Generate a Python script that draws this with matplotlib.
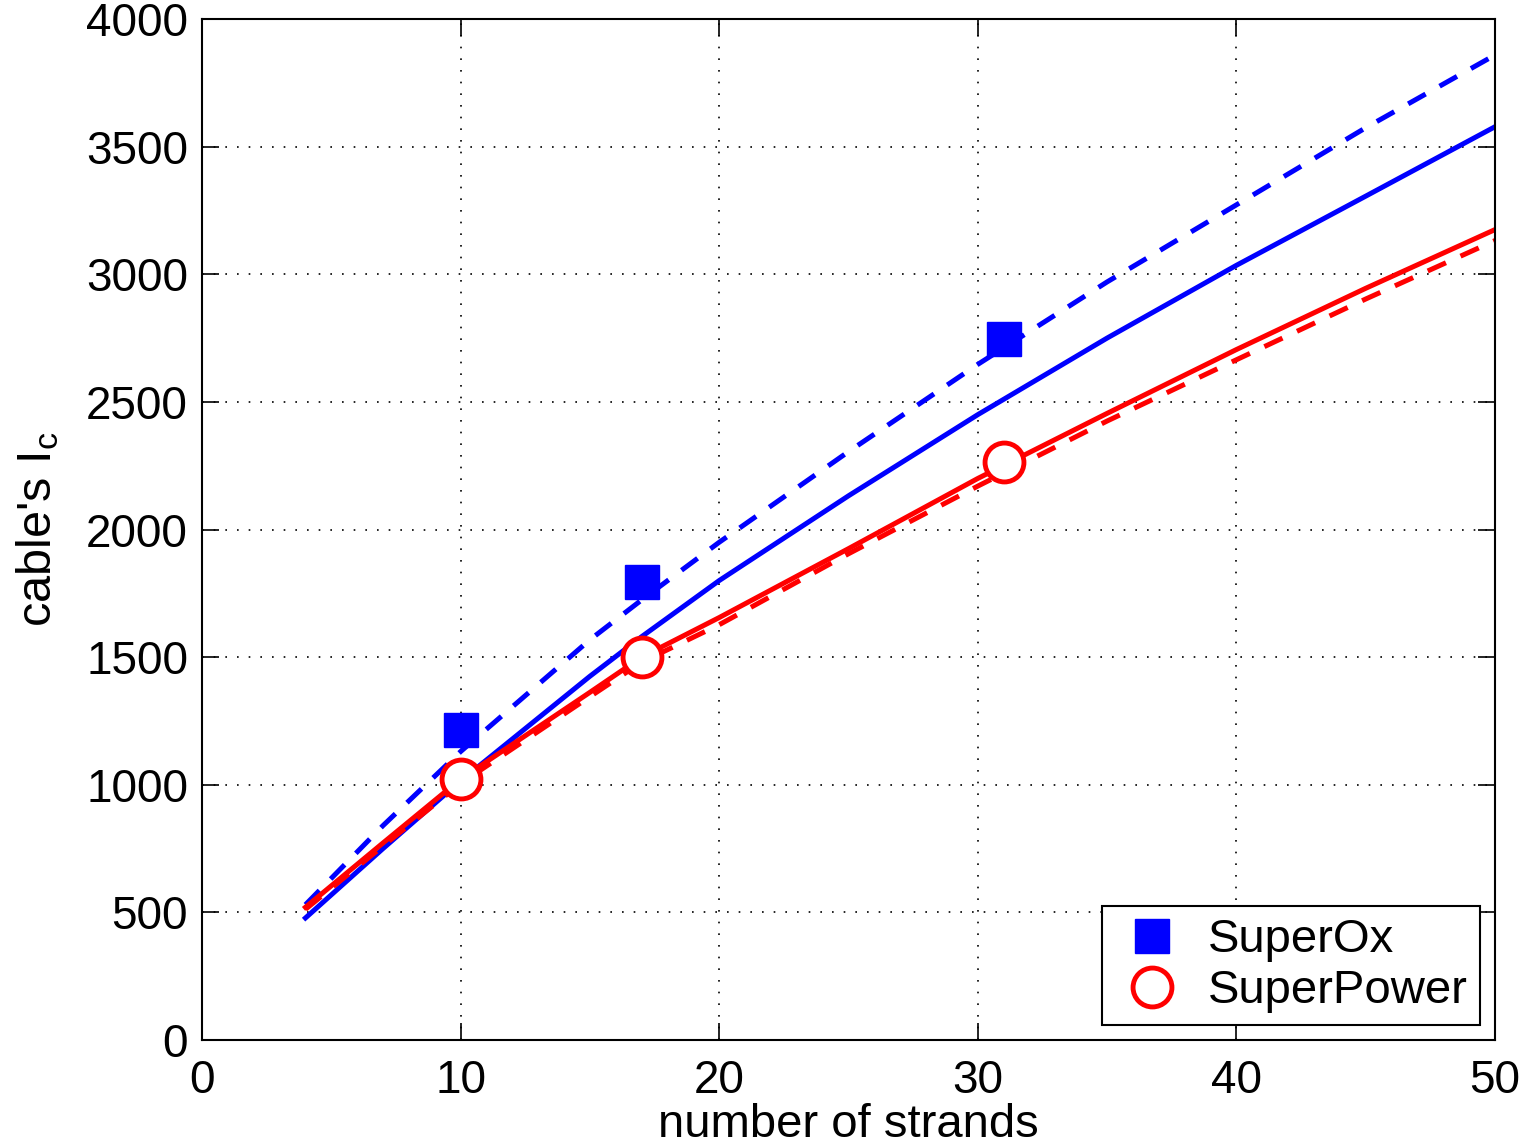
import matplotlib
matplotlib.use("Agg")
import matplotlib.pyplot as plt

plt.rcParams['font.family'] = ['Liberation Sans', 'DejaVu Sans']
plt.rcParams['mathtext.fontset'] = 'custom'
plt.rcParams['mathtext.rm'] = 'Liberation Sans'
plt.rcParams['mathtext.it'] = 'Liberation Sans'

# measured data
strands_meas = [10, 17, 31]
superox_ic = [1215, 1795, 2748]
superpower_ic = [1023, 1500, 2264]

# model curves
x_curve = [4, 7, 10, 15, 17, 20, 25, 30, 35, 40, 45, 50]
superox_dashed = [530, 840, 1130, 1568, 1724, 1950, 2305, 2647, 2970, 3272, 3574, 3859]
superox_solid = [478, 750, 1015, 1425, 1580, 1800, 2132, 2450, 2750, 3035, 3306, 3578]
superpower_solid = [520, 772, 1022, 1362, 1500, 1655, 1925, 2200, 2455, 2705, 2945, 3175]
superpower_dashed = [512, 760, 1005, 1345, 1480, 1627, 1905, 2170, 2425, 2665, 2903, 3132]

x_ticks = [0, 10, 20, 30, 40, 50]
y_ticks = [0, 500, 1000, 1500, 2000, 2500, 3000, 3500, 4000]

fig = plt.figure(figsize=(15.21, 11.46), dpi=100)
ax = fig.add_axes([0.1328, 0.0925, 0.8501, 0.8909])

lw = 3.6
dash = (0, (4, 3.2))
ax.plot(x_curve, superox_dashed, color='blue', lw=lw, ls=dash, zorder=2)
ax.plot(x_curve, superox_solid, color='blue', lw=lw, zorder=2)
ax.plot(x_curve, superpower_dashed, color='red', lw=lw, ls=dash, zorder=2)
ax.plot(x_curve, superpower_solid, color='red', lw=lw, zorder=2)

ax.plot(strands_meas, superox_ic, ls='none', marker='s', ms=25, color='blue',
        mec='blue', label='SuperOx', zorder=3)
ax.plot(strands_meas, superpower_ic, ls='none', marker='o', ms=28, mfc='white',
        mec='red', mew=3.5, label='SuperPower', zorder=3)

ax.set_xlim(0, 50)
ax.set_ylim(0, 4000)
ax.set_xticks(x_ticks)
ax.set_yticks(y_ticks)
ax.tick_params(direction='in', length=12, width=1.2, labelsize=33, top=True, right=True, pad=10)
ax.tick_params(axis='x', pad=14)
ax.grid(True, color='black', ls=(0, (1, 6)), lw=1.2)
for s in ax.spines.values():
    s.set_linewidth(1.5)

ax.set_xlabel('number of strands', fontsize=34, labelpad=0)
ax.set_ylabel("cable's I$_{\\mathrm{c}}$", fontsize=35, labelpad=18)

leg = ax.legend(loc='lower right', bbox_to_anchor=(0.9884, 0.0147), fontsize=34,
                fancybox=False, edgecolor='black', framealpha=1, borderpad=0.25,
                borderaxespad=0, handletextpad=0.4, labelspacing=0.15,
                handlelength=1.6)
leg.get_frame().set_linewidth(1.5)

fig.savefig('out.png', dpi=100)
